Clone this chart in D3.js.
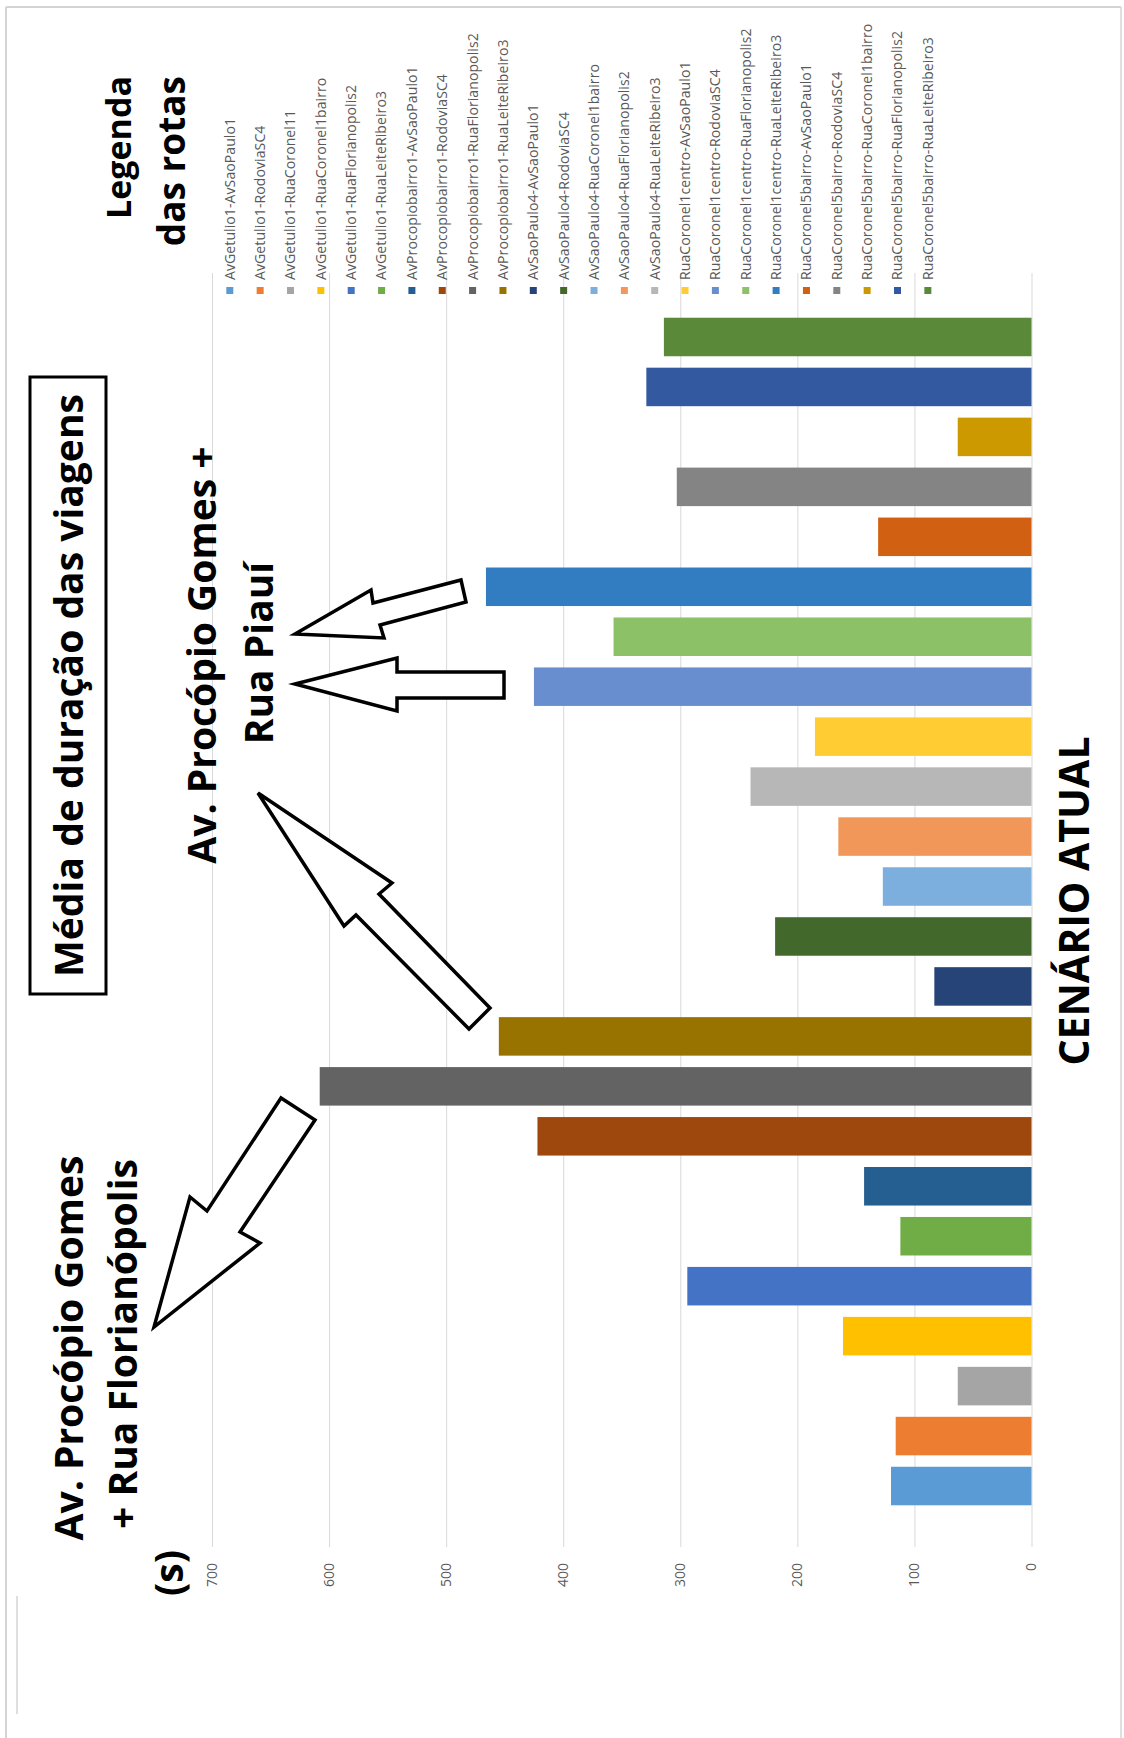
<!DOCTYPE html>
<html>
<head>
<meta charset="utf-8">
<script src="https://cdn.jsdelivr.net/npm/d3@7"></script>
<style>
  body { margin: 0; background: #fff; }
  svg { display: block; }
</style>
</head>
<body>
<svg id="chart" width="1124" height="1738"></svg>
<script>
// Route names (one series each), in plotting order
const routes = [
  "AvGetulio1-AvSaoPaulo1",
  "AvGetulio1-RodoviaSC4",
  "AvGetulio1-RuaCoronel11",
  "AvGetulio1-RuaCoronel1bairro",
  "AvGetulio1-RuaFlorianopolis2",
  "AvGetulio1-RuaLeiteRibeiro3",
  "AvProcopiobairro1-AvSaoPaulo1",
  "AvProcopiobairro1-RodoviaSC4",
  "AvProcopiobairro1-RuaFlorianopolis2",
  "AvProcopiobairro1-RuaLeiteRibeiro3",
  "AvSaoPaulo4-AvSaoPaulo1",
  "AvSaoPaulo4-RodoviaSC4",
  "AvSaoPaulo4-RuaCoronel1bairro",
  "AvSaoPaulo4-RuaFlorianopolis2",
  "AvSaoPaulo4-RuaLeiteRibeiro3",
  "RuaCoronel1centro-AvSaoPaulo1",
  "RuaCoronel1centro-RodoviaSC4",
  "RuaCoronel1centro-RuaFlorianopolis2",
  "RuaCoronel1centro-RuaLeiteRibeiro3",
  "RuaCoronel5bairro-AvSaoPaulo1",
  "RuaCoronel5bairro-RodoviaSC4",
  "RuaCoronel5bairro-RuaCoronel1bairro",
  "RuaCoronel5bairro-RuaFlorianopolis2",
  "RuaCoronel5bairro-RuaLeiteRibeiro3"
];

// Mean trip duration per route, in seconds
const durations = [
  120, 116, 63, 161, 294, 112,
  143, 422, 608, 455,
  83, 219, 127, 165, 240,
  185, 425, 357, 466,
  131, 303, 63, 329, 314
];

// Series colours
const colors = [
  "#5B9BD5", "#ED7D31", "#A5A5A5", "#FFC000", "#4472C4", "#70AD47",
  "#255E91", "#9E480E", "#636363", "#997300", "#264478", "#43682B",
  "#7CAFDD", "#F1975A", "#B7B7B7", "#FFCD33", "#698ED0", "#8CC168",
  "#327DC2", "#D26012", "#848484", "#CC9A00", "#335AA1", "#5A8A39"
];

// Value axis ticks (seconds)
const valueTicks = [0, 100, 200, 300, 400, 500, 600, 700];

// Block arrows used as callouts, in page coordinates
const arrowShapes = [
  [[295,634],[371,590],[373,603],[461,580],[466,602],[380,625],[384,638]],
  [[295,684],[397,658],[397,672],[504,672],[504,698],[397,698],[397,711]],
  [[258,793],[392,883],[379,894],[490,1008],[469,1029],[356,915],[344,926]],
  [[281,1098],[207,1211],[190,1197],[154,1327],[260,1243],[240,1232],[315,1120]]
];

const W = 1124, H = 1738;
const FONT = "'Open Sans', 'Noto Sans', sans-serif";
const svg = d3.select("#chart");

svg.append("rect").attr("width", W).attr("height", H).attr("fill", "#fff");

// page frame
const frame = svg.append("g").attr("stroke", "#d4d4d4").attr("fill", "none");
frame.append("line").attr("x1", 6).attr("x2", 1121).attr("y1", 7).attr("y2", 7).attr("stroke-width", 2);
frame.append("line").attr("x1", 6).attr("x2", 6).attr("y1", 7).attr("y2", H).attr("stroke-width", 2);
frame.append("line").attr("x1", 1121).attr("x2", 1121).attr("y1", 7).attr("y2", H).attr("stroke-width", 1.5);
frame.append("line").attr("x1", 17).attr("x2", 17).attr("y1", 1596).attr("y2", 1714).attr("stroke-width", 1.5);

// The chart is laid out as a column chart and turned a quarter turn
const g = svg.append("g").attr("transform", `translate(0,${H}) rotate(-90)`);

const x = d3.scaleBand()
  .domain(routes)
  .range([227, 1426])
  .paddingInner(0.229)
  .paddingOuter(0.1145);

const y = d3.scaleLinear().domain([0, 700]).range([1031.5, 212]);

// gridlines
g.append("g")
  .attr("transform", "translate(191,0)")
  .call(d3.axisLeft(y).tickValues(valueTicks).tickSize(-1274).tickFormat(""))
  .call(s => s.select(".domain").remove())
  .call(s => s.selectAll("line").attr("stroke", "#d9d9d9").attr("stroke-width", 1));

// value axis labels
g.append("g")
  .attr("transform", "translate(191,0)")
  .call(d3.axisLeft(y).tickValues(valueTicks).tickSize(0).tickPadding(16))
  .call(s => s.select(".domain").remove())
  .call(s => s.selectAll("text")
    .attr("fill", "#595959")
    .style("font-family", FONT)
    .style("font-size", "14px"));

// bars
g.append("g").selectAll("rect")
  .data(routes)
  .join("rect")
  .attr("x", d => x(d))
  .attr("width", x.bandwidth())
  .attr("y", (d, i) => y(durations[i]))
  .attr("height", (d, i) => y(0) - y(durations[i]))
  .attr("fill", (d, i) => colors[i]);

// legend
const ly = d3.scalePoint().domain(routes).range([229.8, 229.8 + 23 * 30.35]);
const legend = g.append("g").selectAll("g")
  .data(routes)
  .join("g")
  .attr("transform", d => `translate(0,${ly(d)})`);
legend.append("rect")
  .attr("x", 1444).attr("y", -3.5).attr("width", 7).attr("height", 7)
  .attr("fill", (d, i) => colors[i]);
legend.append("text")
  .attr("x", 1458).attr("dy", "0.35em")
  .attr("fill", "#595959")
  .style("font-family", FONT)
  .style("font-size", "14px")
  .style("letter-spacing", "0.1px")
  .text(d => d);

// titles and labels
function label(txt, lx, lyPos, size, anchor) {
  g.append("text")
    .attr("x", lx).attr("y", lyPos)
    .attr("text-anchor", anchor || "middle")
    .attr("fill", "#000")
    .style("font-family", FONT)
    .style("font-weight", 700)
    .style("font-size", size + "px")
    .text(txt);
}

g.append("rect")
  .attr("x", 744).attr("y", 30).attr("width", 617).attr("height", 76)
  .attr("fill", "none").attr("stroke", "#000").attr("stroke-width", 3);
label("Média de duração das viagens", 1052.5, 83, 39);

label("Legenda", 1662, 131, 34, "end");
label("das rotas", 1662, 185, 37, "end");

label("Av. Procópio Gomes +", 1083, 216, 39);
label("Rua Piauí", 1085, 273, 39);

label("Av. Procópio Gomes", 390, 83, 39);
label("+ Rua Florianópolis", 394, 137, 39);

label("(s)", 165, 183, 39);

label("CENÁRIO ATUAL", 837, 1089, 41);

// callout arrows
svg.append("g").selectAll("polygon")
  .data(arrowShapes)
  .join("polygon")
  .attr("points", d => d.map(p => p.join(",")).join(" "))
  .attr("fill", "#fff")
  .attr("stroke", "#000")
  .attr("stroke-width", 3.5)
  .attr("stroke-linejoin", "miter");
</script>
</body>
</html>
